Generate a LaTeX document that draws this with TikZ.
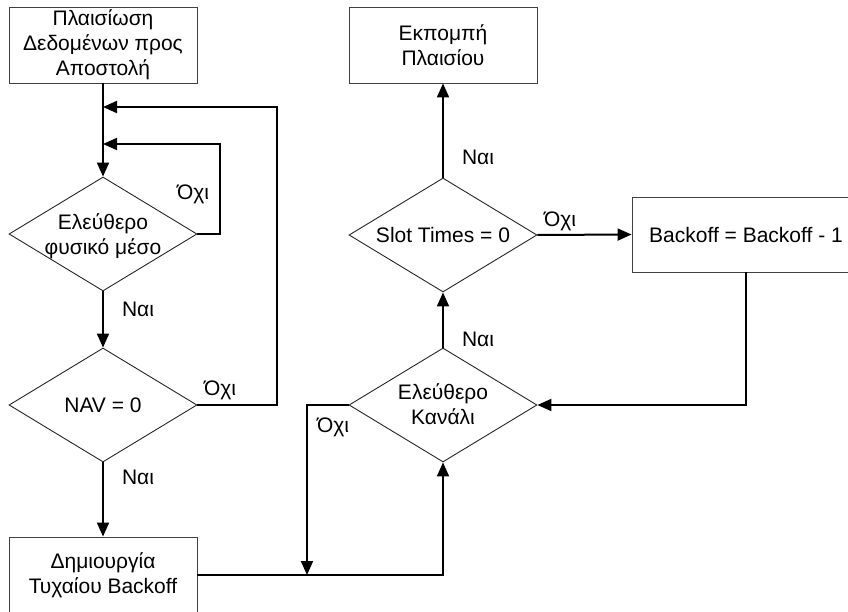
\documentclass[tikz,border=0pt]{standalone}
\usepackage{fontspec}
\setmainfont{Liberation Sans}
\usetikzlibrary{shapes.geometric,arrows.meta}
\begin{document}
\begin{tikzpicture}[x=1pt,y=-1pt,
  every node/.style={font=\fontsize{21}{25}\selectfont},
  procbox/.style={draw=black!75, line width=0.9pt, rectangle, minimum width=188pt,
    minimum height=76pt, inner sep=0pt, align=center},
  decision/.style={draw=black!85, line width=0.9pt, diamond, minimum width=188pt,
    minimum height=114pt, inner sep=0pt},
  txt/.style={align=center, inner sep=0pt},
  flow/.style={line width=2pt, -{Triangle[length=14pt,width=12pt]}},
  tag/.style={anchor=base, inner sep=0pt}]
  % canvas
  \useasboundingbox (0,0) rectangle (848,612);
  \clip (0,0) rectangle (848,612);
  \fill[white] (0,0) rectangle (848,612);

  % left column
  \node[procbox] (frame) at (103,45) {Πλαισίωση\\Δεδομένων προς\\Αποστολή};
  \node[decision] (medium) at (103,234) {};
  \node[txt] (mediumtxt) at (103,236) {Ελεύθερο\\φυσικό μέσο};
  \node[decision] (nav) at (103,405) {};
  \node[txt] (navtxt) at (103,405) {NAV = 0};
  \node[procbox] (rand) at (103,575) {Δημιουργία\\Τυχαίου Backoff};

  % right column
  \node[procbox] (send) at (443,45) {Εκπομπή\\Πλαισίου};
  \node[decision] (slot) at (443,235) {};
  \node[txt] (slottxt) at (443,235) {Slot Times = 0};
  \node[decision] (chan) at (443,405) {};
  \node[txt] (chantxt) at (443,404) {Ελεύθερο\\Κανάλι};
  \node[procbox, minimum width=228pt, minimum height=75pt] (dec) at (746,234.5)
    {Backoff = Backoff - 1};

  % junction points on the connectors
  \coordinate (innerin) at (103,144);
  \coordinate (outerin) at (103,107);
  \coordinate (retry) at (307,575);

  % connectors
  \draw[flow] (frame.south) -- (medium.north);
  \draw[flow] (medium.east) -- ++(23,0) |- (innerin);
  \draw[flow] (nav.east) -- ++(80,0) |- (outerin);
  \draw[flow] (medium.south) -- (nav.north);
  \draw[flow] (nav.south) -- (rand.north);
  \draw[flow] (rand.east) -| (chan.south);
  \draw[flow] (chan.west) -| (retry);
  \draw[flow] (chan.north) -- (slot.south);
  \draw[flow] (slot.north) -- (send.south);
  \draw[flow] (slot.east) -- (dec.west);
  \draw[flow] (dec.south) |- (chan.east);

  % branch labels
  \node[tag] (no1) at (193,200) {Όχι};
  \node[tag] (yes1) at (138,316) {Ναι};
  \node[tag] (no2) at (220,395) {Όχι};
  \node[tag] (yes2) at (138,484) {Ναι};
  \node[tag] (no3) at (333,432) {Όχι};
  \node[tag] (yes3) at (478,346) {Ναι};
  \node[tag] (yes4) at (478,165) {Ναι};
  \node[tag] (no4) at (560,227) {Όχι};
\end{tikzpicture}
\end{document}
